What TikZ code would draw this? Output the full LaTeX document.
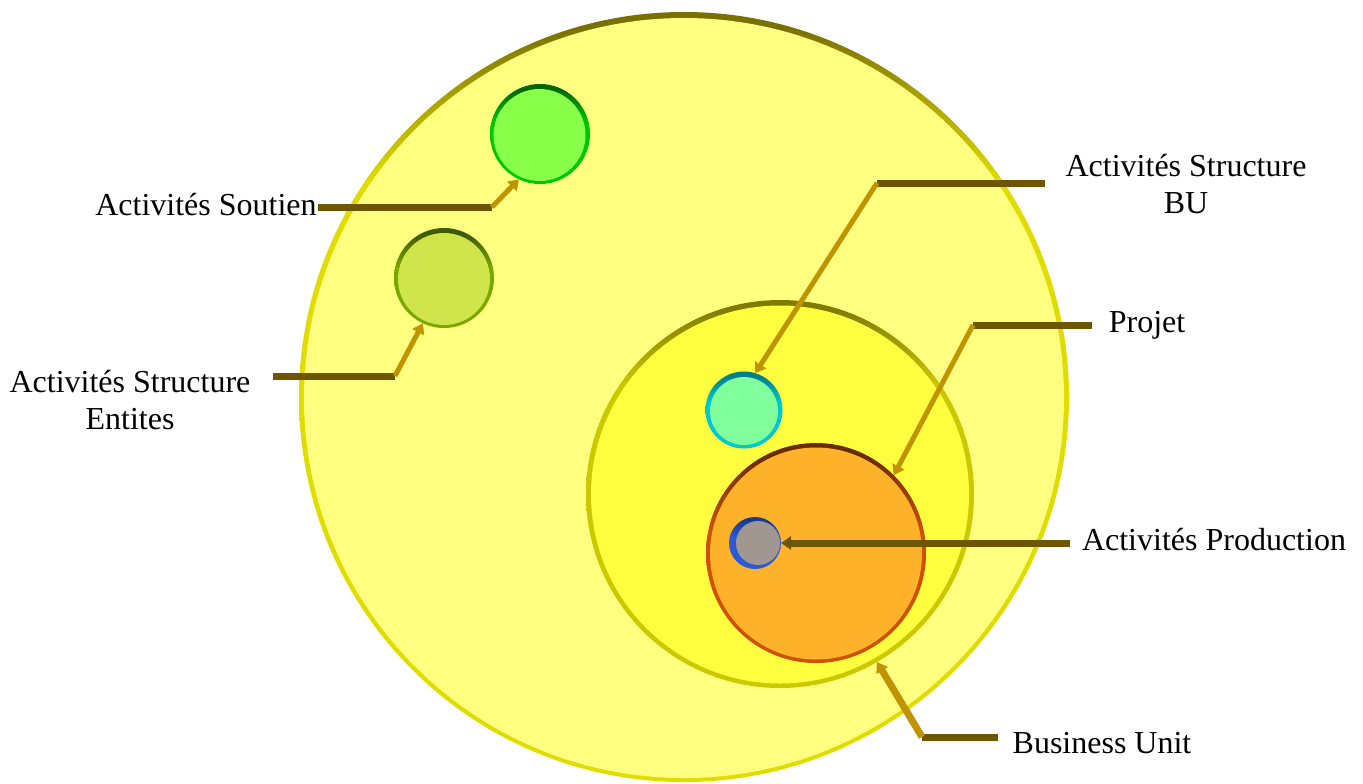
\documentclass[tikz,border=0pt]{standalone}
\usepackage{fontspec}
\setmainfont{Liberation Serif}
\usetikzlibrary{arrows.meta}

% face and rim colours of the discs
\definecolor{buFace}{HTML}{FFFF80}
\definecolor{buRimTop}{HTML}{7A7000}
\definecolor{buRimBot}{HTML}{E0DC00}
\definecolor{pjFace}{HTML}{FFFF40}
\definecolor{pjRimTop}{HTML}{7F7A00}
\definecolor{pjRimBot}{HTML}{CCC800}
\definecolor{orFace}{HTML}{FDB229}
\definecolor{orRimTop}{HTML}{6B2A00}
\definecolor{orRimBot}{HTML}{D05000}
\definecolor{grFace}{HTML}{A09890}
\definecolor{grRimTop}{HTML}{1A3A90}
\definecolor{grRimBot}{HTML}{2A5AD8}
\definecolor{cyFace}{HTML}{80FF9C}
\definecolor{cyRimTop}{HTML}{00808A}
\definecolor{cyRimBot}{HTML}{00C8D2}
\definecolor{gnFace}{HTML}{88FF48}
\definecolor{gnRimTop}{HTML}{006800}
\definecolor{gnRimBot}{HTML}{00C800}
\definecolor{olFace}{HTML}{D0E44C}
\definecolor{olRimTop}{HTML}{3F5A00}
\definecolor{olRimBot}{HTML}{7AA800}
% leader ribbons
\definecolor{barDark}{HTML}{6E5600}
\definecolor{barGold}{HTML}{C09400}

% rim shadings: dark near the top edge, bright elsewhere
% (the shaded path spans 25bp..75bp of the 100bp shading)
\colorlet{rimUp}{black}
\colorlet{rimLow}{white}
\pgfdeclareverticalshading[rimUp,rimLow]{rimwide}{100bp}{%
  color(0bp)=(rimLow); color(55bp)=(rimLow); color(72bp)=(rimUp); color(100bp)=(rimUp)}
\pgfdeclareverticalshading[rimUp,rimLow]{rimthin}{100bp}{%
  color(0bp)=(rimLow); color(64bp)=(rimLow); color(74bp)=(rimUp); color(100bp)=(rimUp)}

\tikzset{
  disk/.style={circle, inner sep=0pt, outer sep=0pt, draw=none},
  rim/.style 2 args={/utils/exec={\colorlet{rimUp}{#1}\colorlet{rimLow}{#2}}, shading=rimwide},
  thinrim/.style 2 args={/utils/exec={\colorlet{rimUp}{#1}\colorlet{rimLow}{#2}}, shading=rimthin},
  lbl/.style={inner sep=0pt, align=center, font=\fontsize{16}{18.5}\selectfont},
  bar/.style={draw=barDark, line width=3.5pt, line join=bevel},
  ray/.style={draw=barGold, line width=2.5pt, line join=bevel,
    -{Triangle[length=5pt,width=6.5pt]}},
}

\begin{document}
\begin{tikzpicture}[x=0.5pt,y=-0.5pt]
\useasboundingbox (0,0) rectangle (1363,783);

% Business Unit
\node[disk, minimum size=385pt, thinrim={buRimTop}{buRimBot}] (buRim) at (684,397) {};
\node[disk, minimum size=380pt, fill=buFace] (bu) at (684,398) {};

% Projet
\node[disk, minimum size=194pt, thinrim={pjRimTop}{pjRimBot}] (pjRim) at (780,494) {};
\node[disk, minimum size=189pt, fill=pjFace] (pj) at (780,494.5) {};

% Activites Production (large orange disc)
\node[disk, minimum size=110pt, rim={orRimTop}{orRimBot}] (orRim) at (816,553) {};
\node[disk, minimum size=106pt, fill=orFace] (or) at (816,553.5) {};

% small grey disc
\node[disk, minimum size=26pt, rim={grRimTop}{grRimBot}] (grRim) at (755,543) {};
\node[disk, minimum size=22pt, fill=grFace] (gr) at (758,543) {};

% Activites Structure BU
\node[disk, minimum size=38.5pt, rim={cyRimTop}{cyRimBot}] (cyRim) at (744,410) {};
\node[disk, minimum size=34pt, fill=cyFace] (cy) at (744,411) {};

% Activites Soutien
\node[disk, minimum size=50pt, rim={gnRimTop}{gnRimBot}] (gnRim) at (540,134) {};
\node[disk, minimum size=46pt, fill=gnFace] (gn) at (539.5,135) {};

% Activites Structure Entites
\node[disk, minimum size=50pt, rim={olRimTop}{olRimBot}] (olRim) at (444,278) {};
\node[disk, minimum size=46pt, fill=olFace] (ol) at (444,279) {};

% labels
\node[lbl] (tSoutien) at (206,205) {Activités Soutien};
\node[lbl] (tEntites) at (130,400) {Activités Structure\\Entites};
\node[lbl] (tBU) at (1186,184) {Activités Structure\\BU};
\node[lbl] (tProjet) at (1147,325) {Projet};
\node[lbl] (tProd) at (1214,540) {Activités Production};
\node[lbl] (tUnit) at (1102,743) {Business Unit};

% leader end points and bends
\coordinate (sSoutien) at (318,207);  \coordinate (kSoutien) at (492,207);
\coordinate (sEntites) at (273,376);  \coordinate (kEntites) at (395,376);
\coordinate (sBU) at (1045,183);      \coordinate (kBU) at (877,183);
\coordinate (sProjet) at (1092,325);  \coordinate (kProjet) at (973,325);
\coordinate (sProd) at (1070,543);
\coordinate (sUnit) at (998,737);     \coordinate (kUnit) at (922,737);

% leaders: dark horizontal bar, then gold slanted ray with its head
\draw[bar] (sSoutien) -- (kSoutien);
\draw[ray] (kSoutien) -- (gnRim.245);
\draw[bar] (sEntites) -- (kEntites);
\draw[ray] (kEntites) -- (olRim.245);
\draw[bar] (sBU) -- (kBU);
\draw[ray] (kBU) -- (cyRim.73);
\draw[bar] (sProjet) -- (kProjet);
\draw[ray] (kProjet) -- (orRim.45);
\draw[bar, -{Triangle[length=5pt,width=6.5pt]}] (sProd) -- (grRim.east);
\draw[bar] (sUnit) -- (kUnit);
\draw[ray, line width=3.5pt] (kUnit) -- (pjRim.-60);
\end{tikzpicture}
\end{document}
